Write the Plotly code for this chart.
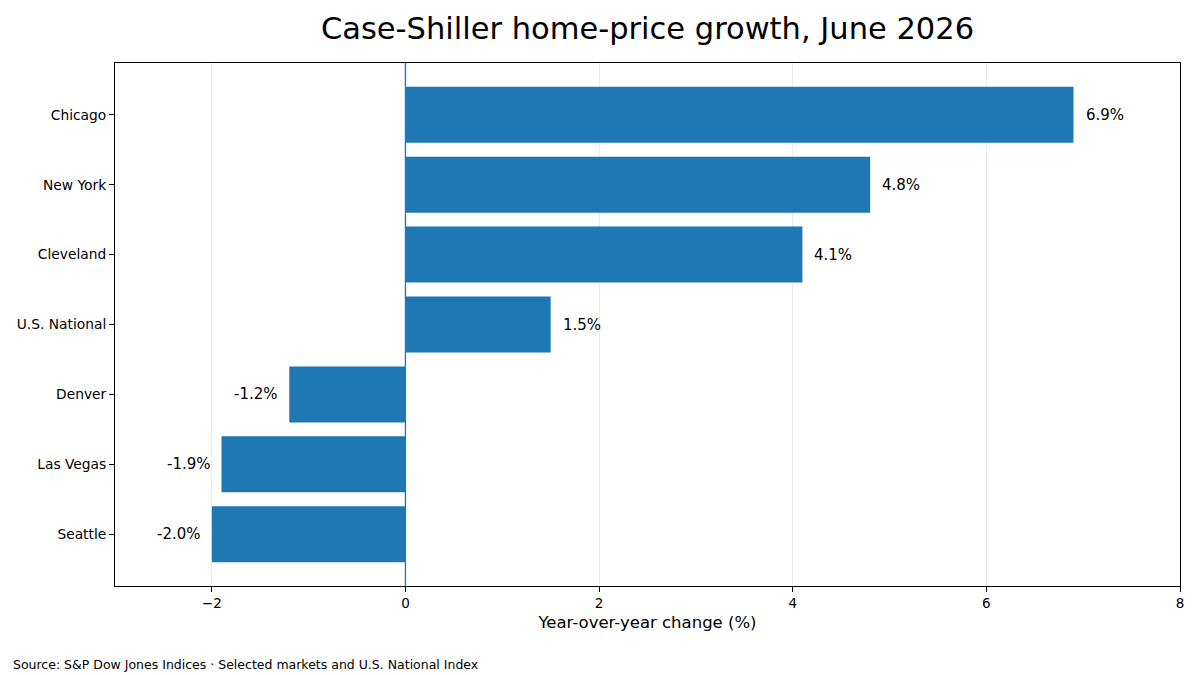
import plotly.graph_objects as go

# data (bottom to top)
markets = ['Seattle', 'Las Vegas', 'Denver', 'U.S. National', 'Cleveland', 'New York', 'Chicago']
yoy_change = [-2.0, -1.9, -1.2, 1.5, 4.1, 4.8, 6.9]
x_ticks = [-2, 0, 2, 4, 6, 8]
x_tick_labels = ['\u22122', '0', '2', '4', '6', '8']

W, H = 1200, 675
OFF = 8  # page body margin shifts the figure by this much
# plot area in page pixels: x 115..1180, y 63..586
L, R, T, B = 115 - OFF, W + OFF - 1180, 63 - OFF, H + OFF - 586
font = 'DejaVu Sans'
bar_color = '#1f77b4'

positions = list(range(len(markets)))

fig = go.Figure()
fig.add_trace(go.Bar(
    x=yoy_change, y=positions, orientation='h', width=0.8,
    marker=dict(color=bar_color, line=dict(width=0)),
    hoverinfo='skip', showlegend=False,
))

# value labels next to each bar end
for pos, val in zip(positions, yoy_change):
    fig.add_annotation(
        x=val, y=pos, xref='x', yref='y',
        text=f'{val:.1f}%', showarrow=False,
        xanchor='left' if val >= 0 else 'right',
        xshift=10 if val >= 0 else -9,
        font=dict(family=font, size=15, color='black'),
    )

# zero reference line
fig.add_shape(type='line', xref='x', yref='paper', x0=0, x1=0, y0=0, y1=1,
              line=dict(color=bar_color, width=1.3), layer='above')

plot_w = W - L - R
plot_h = H - T - B
fig.add_annotation(
    xref='paper', yref='paper',
    x=-(115 - 11) / plot_w, y=-(664 - 586) / plot_h,
    text='Source: S&P Dow Jones Indices \u00b7 Selected markets and U.S. National Index',
    showarrow=False, xanchor='left', yanchor='middle',
    font=dict(family=font, size=12.5, color='black'),
)

fig.update_layout(
    width=W, height=H,
    margin=dict(l=L, r=R, t=T, b=B),
    paper_bgcolor='white', plot_bgcolor='white',
    font=dict(family=font, color='black'),
    title=dict(text='Case-Shiller home-price growth, June 2026', x=(L + plot_w / 2) / W, xanchor='center',
               y=1 - (28 - OFF) / H, yanchor='middle', font=dict(size=30.5, family=font, color='black')),
    bargap=0.2,
)
fig.update_xaxes(
    range=[-3, 8], tickvals=x_ticks, ticktext=x_tick_labels, automargin=False,
    showgrid=True, gridcolor='#ebebeb', gridwidth=1, zeroline=False,
    showline=True, linecolor='black', linewidth=1, mirror=True,
    ticks='outside', ticklen=5, tickcolor='black', tickfont=dict(size=13.5),
    title=dict(text='Year-over-year change (%)', font=dict(size=16.5), standoff=6),
)
fig.update_yaxes(
    range=[-0.74, 6.74], tickvals=positions, ticktext=markets, automargin=False,
    showgrid=False, zeroline=False,
    showline=True, linecolor='black', linewidth=1, mirror=True,
    ticks='outside', ticklen=5, tickcolor='black', tickfont=dict(size=13.8),
)

fig.write_html('out.html')
